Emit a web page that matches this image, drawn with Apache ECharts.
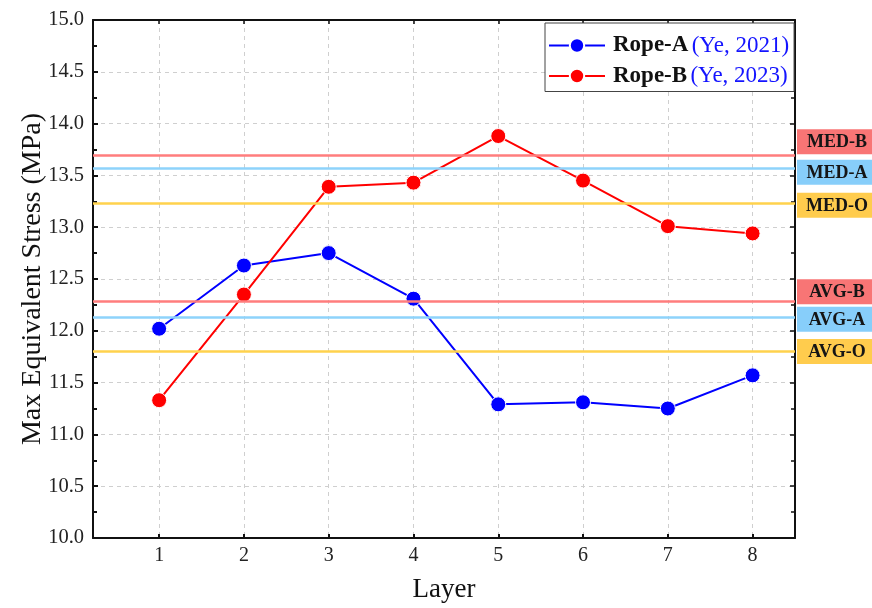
<!DOCTYPE html>
<html>
<head>
<meta charset="utf-8">
<script src="https://cdn.jsdelivr.net/npm/echarts@6/dist/echarts.min.js"></script>
<style>html,body{margin:0;padding:0;background:#fff}#c{width:872px;height:608px}</style>
</head>
<body>
<div id="c"></div>
<script>
// ---- data ----
const layers = [1, 2, 3, 4, 5, 6, 7, 8];
const ropeA = [12.02, 12.63, 12.75, 12.31, 11.29, 11.31, 11.25, 11.57];
const ropeB = [11.33, 12.35, 13.39, 13.43, 13.88, 13.45, 13.01, 12.94];
const refNames = ['MED-B', 'MED-A', 'MED-O', 'AVG-B', 'AVG-A', 'AVG-O'];
const refValues = [13.69, 13.57, 13.23, 12.29, 12.13, 11.80];

// ---- styles ----
const FONT = '"Liberation Serif", "DejaVu Serif", serif';
const refLineColors = ['#FF7D7D', '#8ED3FB', '#FFD24D', '#FF7D7D', '#8ED3FB', '#FFD24D'];
const refBoxColors = ['#F87575', '#87CEFA', '#FFCC4D', '#F87575', '#87CEFA', '#FFCC4D'];
const refBoxShift = [-14, 4, 2, -9, 2, 0];

const chart = echarts.init(document.getElementById('c'));

const gridLine = { show: true, lineStyle: { color: '#cfcfcf', type: [4, 4], width: 1 } };

const option = {
  animation: false,
  backgroundColor: '#fff',
  grid: { left: 93, right: 77, top: 20, bottom: 70, containLabel: false },
  legend: {
    data: ['Rope-A', 'Rope-B'],
    orient: 'vertical',
    left: 545, top: 23,
    padding: [11, 5, 4, 3],
    itemGap: 7.5,
    itemWidth: 56, itemHeight: 18,
    borderColor: '#444', borderWidth: 1,
    backgroundColor: '#fff',
    formatter: function (name) {
      return name === 'Rope-A' ? '{b|Rope-A} {n|(Ye, 2021)}' : '{b|Rope-B} {n|(Ye, 2023)}';
    },
    textStyle: {
      padding: [0, 0, 0, 3],
      rich: {
        b: { fontFamily: FONT, fontWeight: 'bold', fontSize: 23, color: '#111', lineHeight: 26 },
        n: { fontFamily: FONT, fontSize: 23, color: '#1414ff', lineHeight: 26 }
      }
    }
  },
  xAxis: [{
    type: 'value', min: 0.22, max: 8.5,
    name: 'Layer', nameLocation: 'middle', nameGap: 38,
    nameTextStyle: { fontFamily: FONT, fontSize: 27, color: '#111' },
    axisLine: { show: true, onZero: false, lineStyle: { color: '#111', width: 2 } },
    axisTick: { show: true, inside: true, length: 4, customValues: layers, lineStyle: { color: '#111', width: 2 } },
    axisLabel: { show: true, customValues: layers, margin: 8, fontFamily: FONT, fontSize: 20, color: '#222' },
    splitLine: gridLine
  }, {
    type: 'value', min: 0.22, max: 8.5, position: 'top',
    axisLine: { show: true, onZero: false, lineStyle: { color: '#111', width: 2 } },
    axisTick: { show: true, inside: true, length: 4, customValues: layers, lineStyle: { color: '#111', width: 1.5 } },
    axisLabel: { show: false },
    splitLine: { show: false }
  }],
  yAxis: [{
    type: 'value', min: 10, max: 15, interval: 0.5,
    name: 'Max Equivalent Stress (MPa)', nameLocation: 'middle', nameGap: 46,
    nameMoveOverlap: false,
    nameTextStyle: { fontFamily: FONT, fontSize: 28, color: '#111' },
    axisLine: { show: true, onZero: false, lineStyle: { color: '#111', width: 2 } },
    axisTick: { show: true, inside: true, length: 5, lineStyle: { color: '#111', width: 2 } },
    minorTick: { show: true, splitNumber: 2, length: 4, lineStyle: { color: '#111', width: 2 } },
    axisLabel: { margin: 9, fontFamily: FONT, fontSize: 20.5, color: '#222', formatter: v => v.toFixed(1) },
    splitLine: gridLine
  }, {
    type: 'value', min: 10, max: 15, interval: 0.5, position: 'right',
    axisLine: { show: true, onZero: false, lineStyle: { color: '#111', width: 2 } },
    axisTick: { show: true, inside: true, length: 5, lineStyle: { color: '#111', width: 1.5 } },
    minorTick: { show: true, splitNumber: 2, length: 4, lineStyle: { color: '#111', width: 1.5 } },
    axisLabel: { show: false },
    splitLine: { show: false }
  }],
  series: [
    {
      name: 'refs', type: 'line', data: [], silent: true, z: 1,
      markLine: {
        silent: true, symbol: 'none', animation: false,
        label: { show: false },
        data: refValues.map((v, i) => ({
          yAxis: v,
          lineStyle: { color: refLineColors[i], width: 2.5, type: 'solid' }
        }))
      }
    },
    {
      name: 'Rope-A', type: 'line', z: 3,
      data: layers.map((x, i) => [x, ropeA[i]]),
      symbol: 'circle', symbolSize: 15,
      lineStyle: { color: '#0000FF', width: 2 },
      itemStyle: { color: '#0000FF', borderColor: '#fff', borderWidth: 1 }
    },
    {
      name: 'Rope-B', type: 'line', z: 3,
      data: layers.map((x, i) => [x, ropeB[i]]),
      symbol: 'circle', symbolSize: 15,
      lineStyle: { color: '#FF0000', width: 2 },
      itemStyle: { color: '#FF0000', borderColor: '#fff', borderWidth: 1 }
    }
  ]
};
chart.setOption(option);

// reference labels on the right, placed from the y scale
const xRight = chart.convertToPixel({ xAxisIndex: 0 }, 8.5);
const elements = refValues.map((v, i) => {
  const py = chart.convertToPixel({ yAxisIndex: 0 }, v) + refBoxShift[i];
  return {
    type: 'group',
    children: [
      { type: 'rect', shape: { x: xRight + 2, y: py - 12.5, width: 80, height: 25 }, style: { fill: refBoxColors[i] } },
      { type: 'text', x: xRight + 42, y: py + 1, style: { text: refNames[i], fill: '#151515', font: 'bold 18px ' + FONT, textAlign: 'center', textVerticalAlign: 'middle' } }
    ]
  };
});
chart.setOption({ graphic: elements });
</script>
</body>
</html>
